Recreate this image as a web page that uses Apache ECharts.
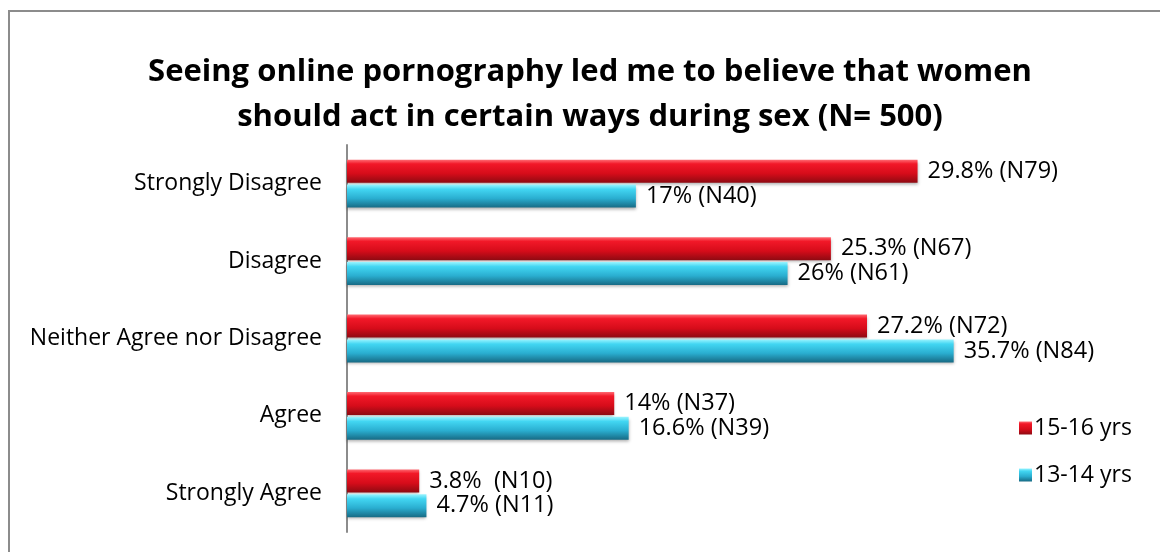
<!DOCTYPE html>
<html>
<head>
<meta charset="utf-8">
<script src="https://cdn.jsdelivr.net/npm/echarts@6/dist/echarts.min.js"></script>
<style>
html,body{margin:0;padding:0;background:#fff;}
#chart{width:1160px;height:552px;}
</style>
</head>
<body>
<div id="chart"></div>
<script>
const titleLines = ['Seeing online pornography led me to believe that women', 'should act in certain ways during sex (N= 500)'];
const categories = ['Strongly Disagree', 'Disagree', 'Neither Agree nor Disagree', 'Agree', 'Strongly Agree'];
const seriesNames = ['15-16 yrs', '13-14 yrs'];
const counts1516 = [79, 67, 72, 37, 10];
const counts1314 = [40, 61, 84, 39, 11];
const labels1516 = ['29.8% (N79)', '25.3% (N67)', '27.2% (N72)', '14% (N37)', '3.8%  (N10)'];
const labels1314 = ['17% (N40)', '26% (N61)', '35.7% (N84)', '16.6% (N39)', '4.7% (N11)'];

const FONT = '"Open Sans", Lato, sans-serif';

function grad(stops) {
  return new echarts.graphic.LinearGradient(0, 0, 0, 1, stops.map(c => ({offset: c[0], color: c[1]})));
}
const redGrad = grad([[0, '#ff6a72'], [0.18, '#f21828'], [0.6, '#d60c1a'], [1, '#8e0a12']]);
const cyanGrad = grad([[0, '#9af4ff'], [0.2, '#42d6f2'], [0.6, '#2aaed0'], [1, '#176a84']]);

const chart = echarts.init(document.getElementById('chart'), null, {renderer: 'canvas'});
chart.setOption({
  animation: false,
  backgroundColor: '#fff',
  graphic: [
    {type: 'rect', z: -10, shape: {x: 9, y: 11, width: 1300, height: 700}, style: {fill: 'none', stroke: '#8c8c8c', lineWidth: 2}},
    {type: 'text', x: 590, y: 72, style: {text: titleLines[0], font: 'bold 31px ' + FONT, fill: '#000', textAlign: 'center', textVerticalAlign: 'middle'}},
    {type: 'text', x: 590, y: 117, style: {text: titleLines[1], font: 'bold 31px ' + FONT, fill: '#000', textAlign: 'center', textVerticalAlign: 'middle'}}
  ],
  legend: {
    orient: 'vertical',
    left: 1014,
    top: 407,
    itemWidth: 13,
    itemHeight: 13,
    itemGap: 15,
    icon: 'rect',
    data: seriesNames,
    textStyle: {fontFamily: FONT, fontSize: 23, color: '#000', padding: [0, 0, 0, -3], lineHeight: 32}
  },
  grid: {left: 347, right: 163, top: 145, bottom: 20, containLabel: false},
  xAxis: {type: 'value', min: 0, max: 90, show: false},
  yAxis: {
    type: 'category',
    data: categories,
    inverse: true,
    axisLine: {show: true, lineStyle: {color: '#8c8c8c', width: 2}},
    axisTick: {show: false},
    axisLabel: {fontFamily: FONT, fontSize: 23, color: '#000', margin: 25}
  },
  series: [
    {
      name: seriesNames[0], type: 'bar', data: counts1516, barWidth: 23, barGap: '8%',
      itemStyle: {color: redGrad, shadowColor: 'rgba(0,0,0,0.3)', shadowBlur: 3, shadowOffsetY: 2},
      label: {show: true, position: 'right', distance: 10, fontFamily: FONT, fontSize: 23.5, color: '#000',
        formatter: p => labels1516[p.dataIndex]}
    },
    {
      name: seriesNames[1], type: 'bar', data: counts1314, barWidth: 23, barGap: '8%',
      itemStyle: {color: cyanGrad, shadowColor: 'rgba(0,0,0,0.3)', shadowBlur: 3, shadowOffsetY: 2},
      label: {show: true, position: 'right', distance: 10, fontFamily: FONT, fontSize: 23.5, color: '#000',
        formatter: p => labels1314[p.dataIndex]}
    }
  ]
});
</script>
</body>
</html>
